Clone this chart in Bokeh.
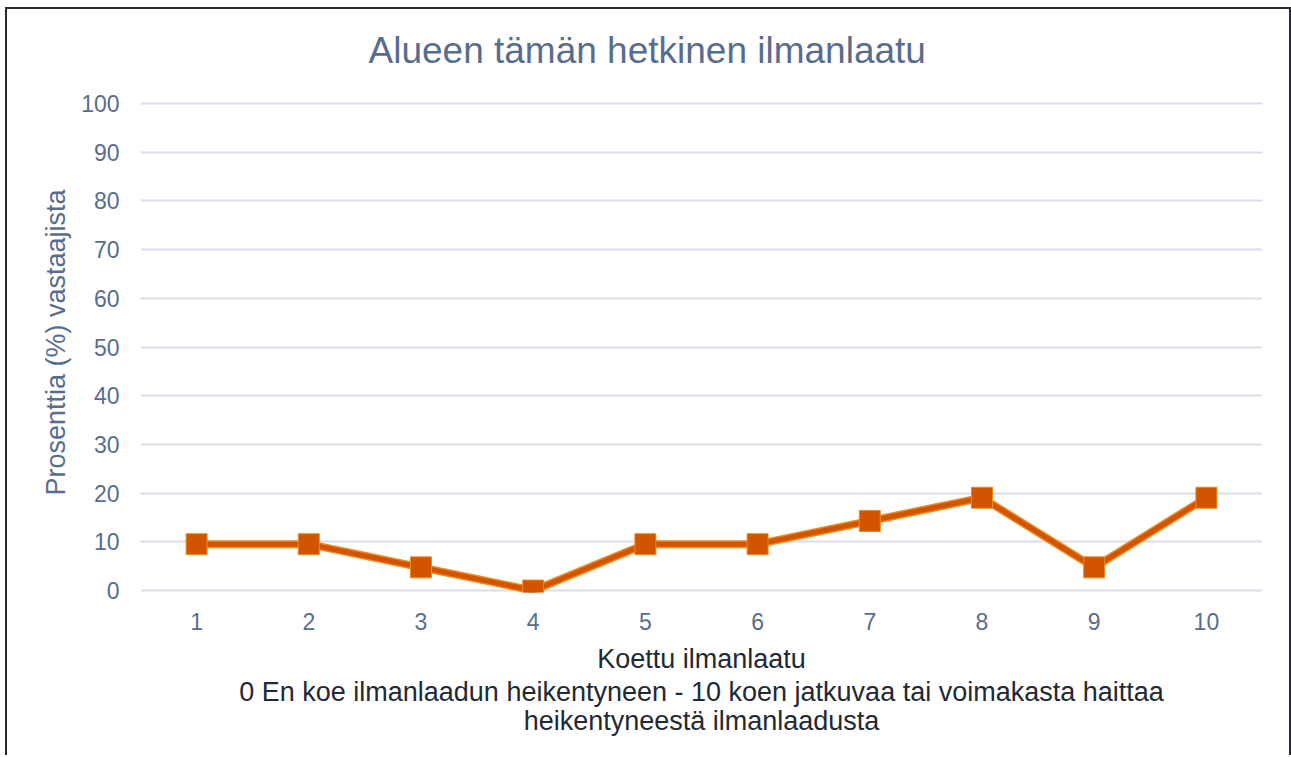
from bokeh.plotting import figure
from bokeh.models import Title, FixedTicker, Range1d
from bokeh.embed import file_html
from bokeh.resources import INLINE

categories = ["1", "2", "3", "4", "5", "6", "7", "8", "9", "10"]
values = [9.52, 9.52, 4.76, 0.0, 9.52, 9.52, 14.29, 19.05, 4.76, 19.05]
y_ticks = [0, 10, 20, 30, 40, 50, 60, 70, 80, 90, 100]

title_text = "Alueen tämän hetkinen ilmanlaatu"
y_label = "Prosenttia (%) vastaajista"
x_label = "Koettu ilmanlaatu"
x_sub1 = "0 En koe ilmanlaadun heikentyneen - 10 koen jatkuvaa tai voimakasta haittaa"
x_sub2 = "heikentyneestä ilmanlaadusta"

FONT = "Liberation Sans"
SLATE = "#586D8E"
DARK = "#222933"
ORANGE = "#D35400"
ORANGE_LIGHT = "#EC8A1C"

p = figure(width=1286, height=748, x_range=categories, y_range=Range1d(-0.4, 102.27),
           output_backend="svg", toolbar_location=None,
           min_border_left=133, min_border_right=31, min_border_top=0, min_border_bottom=165)
p.styles = {"border-top": "2px solid #262a30", "border-left": "2px solid #262a30",
            "border-right": "2px solid #262a30", "margin-left": "5px", "margin-top": "7px"}
p.outline_line_color = None
p.background_fill_color = "white"
p.border_fill_color = "white"

t = Title(text=title_text, align="left", offset=228, vertical_align="top",
          text_font=FONT, text_font_size="37px", text_font_style="normal",
          text_color=SLATE, standoff=40)
p.add_layout(t, "above")

# y axis
p.yaxis.ticker = FixedTicker(ticks=y_ticks)
p.yaxis.axis_line_color = None
p.yaxis.major_tick_line_color = None
p.yaxis.minor_tick_line_color = None
p.yaxis.major_tick_out = 0
p.yaxis.major_label_standoff = 21
p.yaxis.major_label_text_font = FONT
p.yaxis.major_label_text_font_size = "23px"
p.yaxis.major_label_text_color = SLATE
p.yaxis.axis_label = y_label
p.yaxis.axis_label_text_font = FONT
p.yaxis.axis_label_text_font_size = "27px"
p.yaxis.axis_label_text_font_style = "normal"
p.yaxis.axis_label_text_color = SLATE
p.yaxis.axis_label_standoff = 7

# x axis
p.xaxis.axis_line_color = None
p.xaxis.major_tick_line_color = None
p.xaxis.minor_tick_line_color = None
p.xaxis.major_tick_out = 0
p.xaxis.major_label_standoff = 20
p.xaxis.major_label_text_font = FONT
p.xaxis.major_label_text_font_size = "23px"
p.xaxis.major_label_text_color = SLATE
p.xaxis.axis_label = x_label
p.xaxis.axis_label_text_font = FONT
p.xaxis.axis_label_text_font_size = "27px"
p.xaxis.axis_label_text_font_style = "normal"
p.xaxis.axis_label_text_color = DARK
p.xaxis.axis_label_standoff = 11

for txt in [x_sub1, x_sub2]:
    st = Title(text=txt, align="center", text_font=FONT, text_font_size="27px",
               text_font_style="normal", text_color=DARK, standoff=-3)
    p.add_layout(st, "below")

p.xgrid.grid_line_color = None
p.ygrid.ticker = FixedTicker(ticks=y_ticks)
p.ygrid.grid_line_color = "#D9DEE8"
p.ygrid.grid_line_width = 2

p.line(categories, values, line_color=ORANGE_LIGHT, line_width=8)
p.line(categories, values, line_color=ORANGE, line_width=5)
p.scatter(categories, values, marker="square", size=21, fill_color=ORANGE,
          line_color=ORANGE_LIGHT, line_width=1)

open("out.html", "w").write(file_html(p, INLINE))
